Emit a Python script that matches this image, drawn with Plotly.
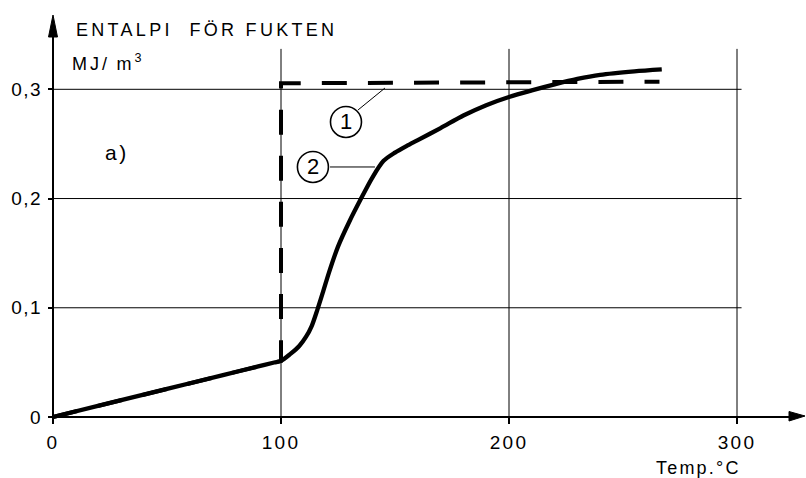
import plotly.graph_objects as go

# ---------------- data ----------------
# Curve 2 (solid): enthalpy of the moisture vs temperature
temp_curve2 = [0, 25, 50, 75, 90, 97, 100, 104, 108, 111, 113.5, 116, 118.5, 121, 125, 130,
               135, 140, 145, 150, 155, 160, 170, 180, 190, 200, 210, 220, 230, 240, 255, 267]
enth_curve2 = [0, 0.0129, 0.0257, 0.0386, 0.0463, 0.0499, 0.0514, 0.0575, 0.0650, 0.0735,
               0.0835, 0.0985, 0.1150, 0.1320, 0.1560, 0.1790, 0.1995, 0.2190, 0.2345,
               0.2420, 0.2480, 0.2535, 0.2645, 0.2760, 0.2855, 0.2930, 0.2990, 0.3045,
               0.3095, 0.3133, 0.3165, 0.3183]
# Curve 1 (dashed)
temp_curve1 = [0, 100, 100, 266]
enth_curve1 = [0, 0.0514, 0.3055, 0.3070]

x_tickvals = [0, 100, 200, 300]
x_ticktext = ["0", "100", "200", "300"]
y_tickvals = [0, 0.1, 0.2, 0.3]
y_ticktext = ["0", "0,1", "0,2", "0,3"]
x_grid = [100, 200, 300]
y_grid = [0.1, 0.2, 0.3]

title_text = "ENTALPI\u00a0 FÖR FUKTEN"
unit_text = "MJ/\u2009m<sup>3</sup>"
xlabel_text = "Temp.°C"
panel_text = "a)"

# ---------------- geometry of the page ----------------
W, H = 806, 478
X0PX, XS = 53, 2.28          # pixel of T=0, px per degree
Y0PX, YS = 417, 1092.3       # pixel of E=0 (from top), px per MJ/m3
x_range = [-X0PX / XS, (W - X0PX) / XS]
y_range = [-(H - Y0PX) / YS, Y0PX / YS]

FONT = "Liberation Sans, Arial, Helvetica, sans-serif"


def sp(text, ls):
    return f'<span style="letter-spacing:{ls}px">{text}</span>'


fig = go.Figure()

fig.add_trace(go.Scatter(x=temp_curve1, y=enth_curve1, mode="lines",
                         line=dict(color="black", width=4, dash="25px,21.1px"),
                         hoverinfo="skip", showlegend=False))
fig.add_trace(go.Scatter(x=temp_curve2, y=enth_curve2, mode="lines",
                         line=dict(color="black", width=4.3, shape="spline", smoothing=0.8),
                         hoverinfo="skip", showlegend=False))

shapes = []
# grid
for v in y_grid:
    shapes.append(dict(type="line", xref="x", yref="y", x0=0, x1=302, y0=v, y1=v,
                       line=dict(color="black", width=1), layer="below"))
for t in x_grid:
    shapes.append(dict(type="line", xref="x", yref="y", x0=t, x1=t, y0=0, y1=0.337,
                       line=dict(color="black", width=1), layer="below"))
# axes
shapes.append(dict(type="line", xref="x", yref="y", x0=0, x1=0, y0=-0.005, y1=0.352,
                   line=dict(color="black", width=2)))
shapes.append(dict(type="line", xref="x", yref="y", x0=0, x1=323, y0=0, y1=0,
                   line=dict(color="black", width=2)))
# arrow heads (pixel sized, anchored at the origin)
shapes.append(dict(type="path", xref="x", yref="y", xsizemode="pixel", ysizemode="pixel",
                   xanchor=0, yanchor=0, path="M0,402 L-4.5,380 L4.5,380 Z",
                   fillcolor="black", line=dict(color="black", width=1)))
shapes.append(dict(type="path", xref="x", yref="y", xsizemode="pixel", ysizemode="pixel",
                   xanchor=0, yanchor=0, path="M752,1 L736,5.5 L736,-4 Z",
                   fillcolor="black", line=dict(color="black", width=1)))
# circled labels + leader lines
for cx, cy in [(128.5, 0.2701), (114.0, 0.2289)]:
    shapes.append(dict(type="circle", xref="x", yref="y", xsizemode="pixel", ysizemode="pixel",
                       xanchor=cx, yanchor=cy, x0=-15.5, x1=15.5, y0=-15.5, y1=15.5,
                       line=dict(color="black", width=1.6)))
shapes.append(dict(type="line", xref="x", yref="y", x0=133.8, y0=0.2811, x1=145.6, y1=0.3012,
                   line=dict(color="black", width=1)))
shapes.append(dict(type="line", xref="x", yref="y", x0=121.5, y0=0.2289, x1=141.2, y1=0.2289,
                   line=dict(color="black", width=1)))

annotations = [
    dict(x=9.2, y=0.3543, xref="x", yref="y", text=sp(title_text, 3.3), showarrow=False,
         xanchor="left", yanchor="middle", font=dict(family=FONT, size=18, color="black")),
    dict(x=7.5, y=0.3250, xref="x", yref="y", text=sp(unit_text, 3.0), showarrow=False,
         xanchor="left", yanchor="middle", font=dict(family=FONT, size=18, color="black")),
    dict(x=28.1, y=0.2417, xref="x", yref="y", text=sp(panel_text, 2.5), showarrow=False,
         xanchor="center", yanchor="middle", font=dict(family=FONT, size=21, color="black")),
    dict(x=128.5, y=0.2701, xref="x", yref="y", text="1", showarrow=False,
         xanchor="center", yanchor="middle", font=dict(family=FONT, size=22, color="black")),
    dict(x=114.0, y=0.2289, xref="x", yref="y", text="2", showarrow=False,
         xanchor="center", yanchor="middle", font=dict(family=FONT, size=22, color="black")),
    dict(x=302.5, y=-0.0467, xref="x", yref="y", text=sp(xlabel_text, 2.2), showarrow=False,
         xanchor="right", yanchor="middle", font=dict(family=FONT, size=18, color="black")),
]

fig.update_layout(
    width=W, height=H,
    margin=dict(l=0, r=0, t=0, b=0, pad=0),
    paper_bgcolor="white", plot_bgcolor="white",
    showlegend=False, hovermode=False,
    shapes=shapes, annotations=annotations,
    xaxis=dict(range=x_range, domain=[0, 1], anchor="free", position=(H - Y0PX) / H,
               showgrid=False, zeroline=False, showline=False,
               tickmode="array", tickvals=x_tickvals,
               ticktext=[sp(t, 2.2) for t in x_ticktext],
               ticks="outside", ticklen=6, tickwidth=1.5, tickcolor="black",
               ticklabelstandoff=2,
               tickfont=dict(family=FONT, size=19, color="black"), fixedrange=True),
    yaxis=dict(range=y_range, domain=[0, 1], anchor="free", position=X0PX / W,
               showgrid=False, zeroline=False, showline=False,
               tickmode="array", tickvals=y_tickvals,
               ticktext=[sp(t, 1.5) for t in y_ticktext],
               ticks="outside", ticklen=5, tickwidth=1.5, tickcolor="black",
               ticklabelstandoff=2,
               tickfont=dict(family=FONT, size=19, color="black"), fixedrange=True),
)

fig.write_html("out.html")
